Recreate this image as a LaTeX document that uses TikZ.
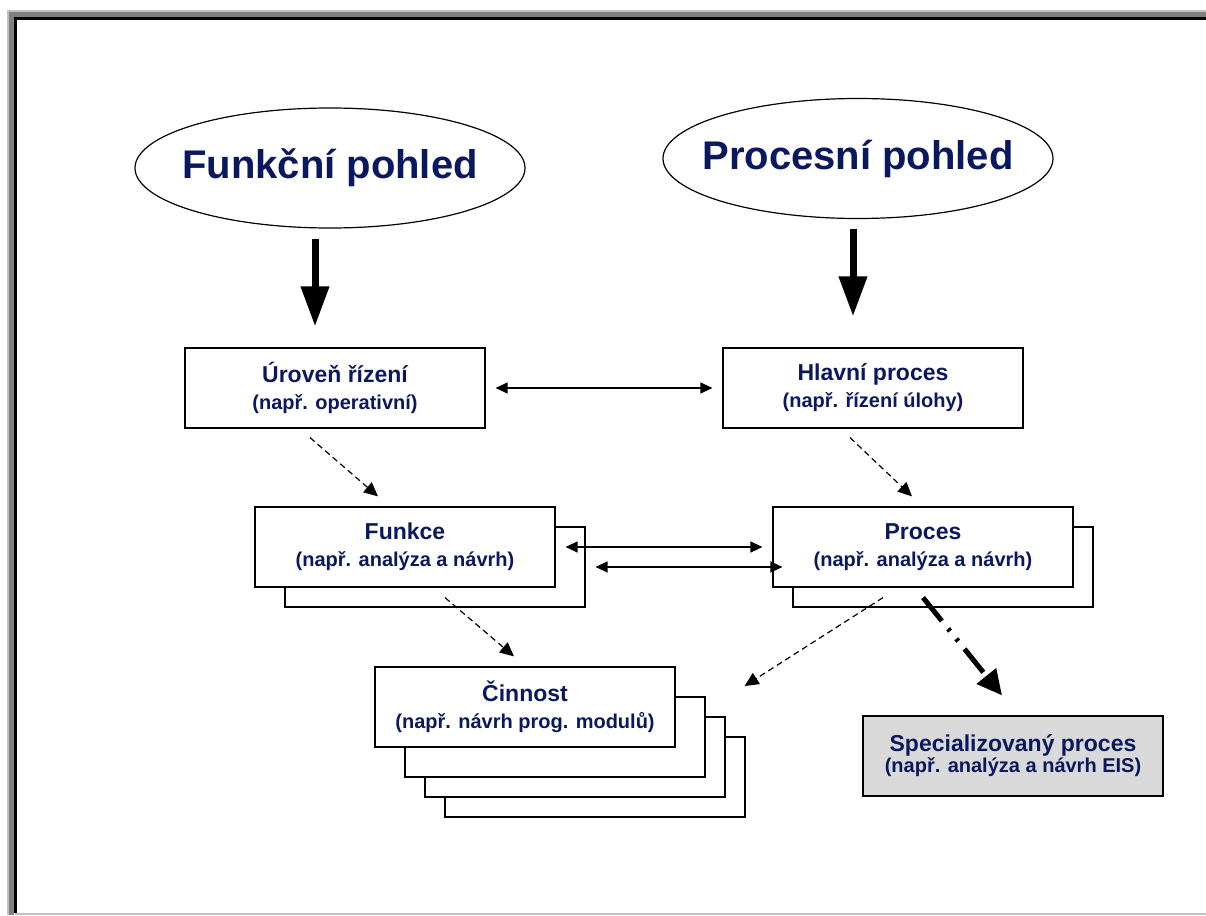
\documentclass[tikz,border=0pt]{standalone}
\usepackage{fontspec}
\setmainfont{Liberation Sans}
\usetikzlibrary{shapes.geometric,arrows.meta}
\definecolor{navy}{RGB}{10,25,95}
\definecolor{lgray}{RGB}{192,192,192}
\definecolor{dgray}{RGB}{128,128,128}
\definecolor{specfill}{RGB}{217,217,217}
\newcommand{\boxtitle}[1]{{\fontsize{23}{27}\selectfont #1}}
\begin{document}
\begin{tikzpicture}[x=1pt,y=-1pt,
  view/.style={ellipse,draw,line width=1.2pt,minimum width=390pt,minimum height=120pt,
    inner xsep=-20pt,inner ysep=0pt,
    font=\fontsize{40}{42}\selectfont\bfseries,text=navy},
  box/.style={rectangle,draw,line width=1.2pt,fill=white,minimum width=300pt,minimum height=80pt,
    inner sep=0pt,align=center,text=navy,font=\fontsize{20}{27}\selectfont\bfseries},
  backbox/.style={rectangle,draw,line width=1.2pt,fill=white,minimum width=300pt,minimum height=80pt,inner sep=0pt},
  big/.style={line width=7pt,-{Triangle[length=40pt,width=27pt]}},
  both/.style={line width=1.3pt,{Triangle[length=12pt,width=11pt]}-{Triangle[length=12pt,width=11pt]}},
  dsh/.style={line width=1.2pt,dash pattern=on 6pt off 4pt,-{Triangle[length=14pt,width=13pt]}},
  dashdot/.style={line width=5pt,dash pattern=on 30pt off 10pt on 3pt off 10pt on 3pt off 10pt,-{Triangle[length=25pt,width=24pt]}},
]
\useasboundingbox (0,0) rectangle (1206,915);
\fill[white] (0,0) rectangle (1206,915);
% frame
\fill[lgray] (7,10) rectangle (1206,12);
\fill[lgray] (7,10) rectangle (9,915);
\fill[dgray] (9,12) rectangle (1206,17);
\fill[dgray] (9,12) rectangle (14,915);
\fill[black] (14,17) rectangle (1206,20);
\fill[black] (14,17) rectangle (17,912.5);
\fill[lgray] (15,912.5) rectangle (1206,915);

% views
\node[view] (e1) at (330,168) {Funkční pohled};
\node[view] (e2) at (858,158.5) {Procesní pohled};

% level 1
\node[box] (a) at (335,388) {\boxtitle{Úroveň řízení}\\(např. operativní)};
\node[box] (b) at (873,388) {\boxtitle{Hlavní proces}\\(např. řízení úlohy)};

% level 2
\node[backbox] (fb) at (435,567) {};
\node[box] (f) at (405,547) {\boxtitle{Funkce}\\(např. analýza a návrh)};
\node[backbox] (pb) at (943,567) {};
\node[box] (p) at (923,547) {\boxtitle{Proces}\\(např. analýza a návrh)};

% level 3
\node[backbox] (c4) at (595,777) {};
\node[backbox] (c3) at (575,757) {};
\node[backbox] (c2) at (555,737) {};
\node[box] (c) at (525,707) {\boxtitle{Činnost}\\(např. návrh prog. modulů)};

\node[box,fill=specfill,font=\fontsize{20}{21}\selectfont\bfseries] (s) at (1013,756)
  {{\fontsize{23}{21}\selectfont Specializovaný proces}\\(např. analýza a návrh EIS)};

% connectors
\draw[big] ([shift={(-15,10)}]e1.south) -- ([shift={(-20,-21)}]a.north);
\draw[big] ([shift={(-5,9.5)}]e2.south) -- ([shift={(-20,-31)}]b.north);
\draw[both] ([shift={(10,0)}]a.east) -- ([shift={(-10,0)}]b.west);
\draw[both] ([shift={(10,0)}]f.east) -- ([shift={(-10,0)}]p.west);
\draw[both] ([shift={(10,0)}]fb.east) -- ([shift={(-10,0)}]pb.west);
\draw[dsh] ([shift={(-25,9)}]a.south) -- ([shift={(-27,-10)}]f.north);
\draw[dsh] ([shift={(-23,9)}]b.south) -- ([shift={(-11,-10)}]p.north);
\draw[dsh] ([shift={(40,10)}]f.south) -- ([shift={(-11,-10)}]c.north);
\draw[dsh] ([shift={(-40,10)}]p.south) -- ([shift={(69,-21)}]c.east);
\draw[dashdot] ([shift={(0,10)}]p.south) -- ([shift={(-11,-20)}]s.north);
\end{tikzpicture}
\end{document}
